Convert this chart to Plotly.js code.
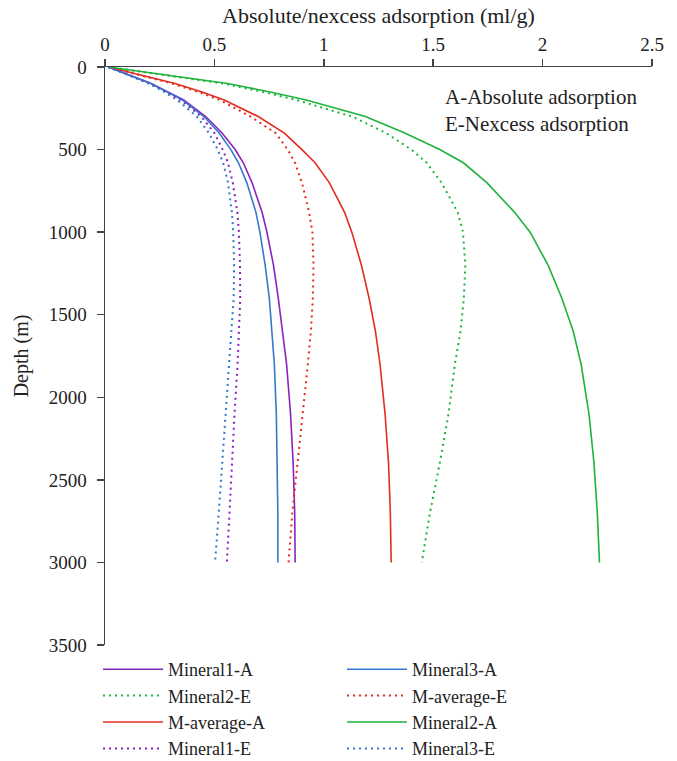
<!DOCTYPE html>
<html>
<head>
<meta charset="utf-8">
<script src="https://cdn.plot.ly/plotly-3.0.1.min.js"></script>
<style>html,body{margin:0;padding:0;background:#fff;}#chart{width:677px;height:761px;}</style>
</head>
<body>
<div id="chart"></div>
<script>
// Depth (m)
var depth = [0, 50, 100, 150, 200, 300, 400, 500, 580, 700, 880, 1000, 1200, 1400, 1600, 1800, 2100, 2400, 2700, 3000];

// Adsorption (ml/g) per series
var mineral1A = [0.015, 0.115, 0.21, 0.285, 0.36, 0.46, 0.535, 0.595, 0.632, 0.672, 0.718, 0.740, 0.770, 0.792, 0.812, 0.830, 0.848, 0.860, 0.867, 0.869];
var mineral3A = [0.015, 0.115, 0.21, 0.283, 0.355, 0.452, 0.522, 0.575, 0.610, 0.648, 0.690, 0.708, 0.732, 0.751, 0.764, 0.774, 0.783, 0.788, 0.790, 0.790];
var mineral2E = [0.015, 0.28, 0.54, 0.72, 0.875, 1.13, 1.285, 1.40, 1.47, 1.538, 1.612, 1.636, 1.647, 1.640, 1.625, 1.599, 1.570, 1.530, 1.485, 1.448];
var mAverageE = [0.015, 0.165, 0.305, 0.425, 0.525, 0.665, 0.78, 0.835, 0.868, 0.900, 0.933, 0.948, 0.953, 0.950, 0.941, 0.927, 0.905, 0.880, 0.856, 0.839];
var mAverageA = [0.015, 0.17, 0.32, 0.44, 0.545, 0.70, 0.82, 0.90, 0.96, 1.025, 1.095, 1.128, 1.172, 1.207, 1.236, 1.257, 1.280, 1.296, 1.304, 1.308];
var mineral2A = [0.015, 0.29, 0.56, 0.75, 0.92, 1.19, 1.37, 1.53, 1.638, 1.745, 1.872, 1.943, 2.025, 2.088, 2.140, 2.176, 2.212, 2.235, 2.250, 2.260];
var mineral1E = [0.015, 0.112, 0.205, 0.278, 0.345, 0.44, 0.50, 0.538, 0.562, 0.584, 0.605, 0.612, 0.617, 0.618, 0.613, 0.606, 0.592, 0.579, 0.569, 0.557];
var mineral3E = [0.015, 0.11, 0.20, 0.27, 0.33, 0.42, 0.475, 0.515, 0.54, 0.562, 0.580, 0.586, 0.590, 0.588, 0.578, 0.568, 0.553, 0.535, 0.520, 0.503];

var names = ['Mineral1-A', 'Mineral3-A', 'Mineral2-E', 'M-average-E', 'M-average-A', 'Mineral2-A', 'Mineral1-E', 'Mineral3-E'];
var series = [mineral1A, mineral3A, mineral2E, mAverageE, mAverageA, mineral2A, mineral1E, mineral3E];

var purple = '#8a22c2', blue = '#3578c9', red = '#e42b1f', green = '#1eb33c';
var colors = [purple, blue, green, red, red, green, purple, blue];
var dashes = ['solid', 'solid', '2px,4px', '2px,4px', 'solid', 'solid', '2px,4px', '2px,4px'];
var widths = [1.6, 1.6, 2, 2, 1.6, 1.6, 2, 2];

var traces = series.map(function (s, i) {
  return {
    x: s, y: depth, name: names[i], type: 'scatter', mode: 'lines',
    line: {color: colors[i], dash: dashes[i], width: widths[i], shape: 'linear'}
  };
});

var fontFam = 'Liberation Serif, DejaVu Serif, serif';
var txt = '#222';
var layout = {
  width: 677, height: 761,
  margin: {l: 105, r: 25, t: 67, b: 116, autoexpand: false},
  paper_bgcolor: '#fff', plot_bgcolor: '#fff',
  font: {family: fontFam, size: 20, color: txt},
  showlegend: true,
  xaxis: {
    side: 'top', range: [0, 2.5], dtick: 0.5, tick0: 0,
    showgrid: false, zeroline: false,
    showline: true, linecolor: '#444', linewidth: 1.5,
    ticks: 'outside', ticklen: 7, tickcolor: '#444', tickwidth: 1.5,
    tickfont: {family: fontFam, size: 19, color: txt},
    title: {text: 'Absolute/nexcess adsorption (ml/g)', font: {family: fontFam, size: 22, color: txt}, standoff: 4}
  },
  yaxis: {
    range: [3500, 0], dtick: 500, tick0: 0,
    showgrid: false, zeroline: false,
    showline: true, linecolor: '#444', linewidth: 1.5,
    ticks: 'outside', ticklen: 7, tickcolor: '#444', tickwidth: 1.5,
    ticklabelstandoff: 6,
    tickfont: {family: fontFam, size: 19, color: txt},
    title: {text: 'Depth (m)', font: {family: fontFam, size: 20, color: txt}, standoff: 14}
  },
  legend: {
    orientation: 'h', x: -0.0128, xanchor: 'left', y: -0.0104, yanchor: 'top',
    entrywidth: 169, entrywidthmode: 'pixels',
    traceorder: 'normal',
    font: {family: fontFam, size: 18, color: txt},
    itemwidth: 60, tracegroupgap: 0
  },
  annotations: [{
    xref: 'paper', yref: 'paper', x: 0.618, y: 0.972, xanchor: 'left', yanchor: 'top',
    align: 'left', showarrow: false,
    text: 'A-Absolute adsorption<br>E-Nexcess adsorption',
    font: {family: fontFam, size: 21, color: txt}
  }]
};

Plotly.newPlot('chart', traces, layout, {displayModeBar: false, staticPlot: true});
</script>
</body>
</html>
